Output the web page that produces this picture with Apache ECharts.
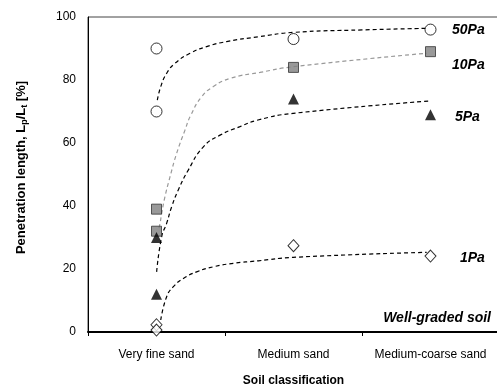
<!DOCTYPE html>
<html>
<head>
<meta charset="utf-8">
<script src="https://cdn.jsdelivr.net/npm/echarts@6/dist/echarts.min.js"></script>
<style>
  html, body { margin: 0; padding: 0; background: #fff; }
  #chart { width: 497px; height: 385px; }
</style>
</head>
<body>
<div id="chart"></div>
<script>
// soil classes on the x axis
const categories = ['Very fine sand', 'Medium sand', 'Medium-coarse sand']
const yTicks = [0, 20, 40, 60, 80, 100]

// measured points (category index, value)
const pa50Cat = [0, 0, 1, 2]
const pa50Val = [90, 70, 93, 96]
const pa10Cat = [0, 0, 1, 2]
const pa10Val = [39, 32, 84, 89]
const pa5Cat = [0, 0, 1, 2]
const pa5Val = [30, 12, 74, 69]
const pa1Cat = [0, 0, 1, 2]
const pa1Val = [2.3, 0.6, 27.4, 24.1]

// dashed trend lines (x in category widths, 0.5 = first class)
const fit50X = [0.506, 0.531, 0.574, 0.635, 0.745, 0.866, 1.012, 1.241, 1.496, 2.0, 2.474]
const fit50Y = [73.6, 77.9, 82.1, 85.3, 88.5, 90.6, 92.2, 93.7, 95.1, 95.9, 96.4]
const fit10X = [0.518, 0.526, 0.538, 0.562, 0.599, 0.647, 0.708, 0.75, 0.83, 0.915, 1.036, 1.255, 1.496, 2.472]
const fit10Y = [33.0, 34.5, 37.7, 43.0, 49.3, 56.7, 64.1, 68.8, 74.7, 77.9, 80.5, 82.4, 84.2, 88.5]
const fit5X = [0.501, 0.538, 0.574, 0.611, 0.659, 0.732, 0.842, 0.964, 1.109, 1.241, 1.496, 2.484]
const fit5Y = [19.1, 30.3, 34.5, 39.8, 45.1, 51.4, 58.8, 62.5, 65.2, 67.3, 69.4, 73.3]
const fit1X = [0.531, 0.574, 0.623, 0.696, 0.793, 0.915, 1.061, 1.243, 1.496, 2.472]
const fit1Y = [3.8, 11.2, 14.4, 17.0, 19.1, 20.7, 21.8, 22.6, 23.7, 25.3]

const seriesLabels = ['50Pa', '10Pa', '5Pa', '1Pa']

function pairs(xs, ys) {
  return xs.map((x, i) => [x, ys[i]])
}

function scatter(name, cats, vals, symbol, size, style) {
  return {
    name,
    type: 'scatter',
    xAxisIndex: 0,
    symbol,
    symbolSize: size,
    clip: false,
    z: 5,
    itemStyle: style,
    data: cats.map((c, i) => [categories[c], vals[i]]),
  }
}

function fitLine(xs, ys, color) {
  return {
    type: 'line',
    xAxisIndex: 1,
    smooth: 0.5,
    showSymbol: false,
    silent: true,
    z: 2,
    lineStyle: { color, width: 1.2, type: [4, 3] },
    data: pairs(xs, ys),
  }
}

const labelFont = 'bold italic 14px "Liberation Sans", Arial, sans-serif'

const chart = echarts.init(document.getElementById('chart'))

chart.setOption({
  animation: false,
  textStyle: { fontFamily: '"Liberation Sans", Arial, sans-serif' },
  grid: {
    left: 88,
    top: 17,
    width: 411,
    height: 315,
    outerBoundsMode: 'none',
    containLabel: false,
    show: true,
    borderColor: '#444',
    borderWidth: 1,
  },
  xAxis: [
    {
      type: 'category',
      data: categories,
      boundaryGap: true,
      name: 'Soil classification',
      nameLocation: 'middle',
      nameGap: 43,
      nameTextStyle: { fontSize: 12, fontWeight: 'bold', color: '#000' },
      axisLine: { lineStyle: { color: '#000', width: 2 } },
      axisTick: { show: true, interval: 0, length: 4, lineStyle: { color: '#000', width: 1 } },
      axisLabel: { fontSize: 12, color: '#000', margin: 17, interval: 0 },
    },
    {
      type: 'value',
      min: 0,
      max: 3,
      show: false,
    },
  ],
  yAxis: {
    type: 'value',
    min: yTicks[0],
    max: yTicks[yTicks.length - 1],
    interval: 20,
    name: '{b|Penetration length, L}{s|p}{b|/L}{s|t}{b| [%]}',
    nameLocation: 'middle',
    nameGap: 59,
    nameTextStyle: {
      padding: [0, 0, 0, 14],
      rich: {
        b: { fontSize: 13, fontWeight: 'bold', color: '#000', lineHeight: 16 },
        s: { fontSize: 9, fontWeight: 'bold', color: '#000', verticalAlign: 'bottom', lineHeight: 12 },
      },
    },
    axisLine: { show: true, lineStyle: { color: '#000', width: 1 } },
    axisTick: { show: false },
    splitLine: { show: false },
    axisLabel: { fontSize: 12, color: '#000', margin: 12 },
  },
  series: [
    fitLine(fit50X, fit50Y, '#000'),
    fitLine(fit10X, fit10Y, '#999'),
    fitLine(fit5X, fit5Y, '#000'),
    fitLine(fit1X, fit1Y, '#000'),
    scatter(seriesLabels[0], pa50Cat, pa50Val, 'circle', 11, { color: '#fff', borderColor: '#000', borderWidth: 1 }),
    scatter(seriesLabels[1], pa10Cat, pa10Val, 'rect', 10, { color: '#808080', borderColor: '#333', borderWidth: 1 }),
    scatter(seriesLabels[2], pa5Cat, pa5Val, 'triangle', 11, { color: '#000' }),
    scatter(seriesLabels[3], pa1Cat, pa1Val, 'diamond', [11, 12], { color: '#fff', borderColor: '#000', borderWidth: 1 }),
  ],
  graphic: [
    { type: 'text', left: 452, top: 23, style: { text: seriesLabels[0], font: labelFont, fill: '#000' } },
    { type: 'text', left: 452, top: 58, style: { text: seriesLabels[1], font: labelFont, fill: '#000' } },
    { type: 'text', left: 455, top: 110, style: { text: seriesLabels[2], font: labelFont, fill: '#000' } },
    { type: 'text', left: 460, top: 251, style: { text: seriesLabels[3], font: labelFont, fill: '#000' } },
    { type: 'text', right: 6, top: 311, style: { text: 'Well-graded soil', font: labelFont, fill: '#000' } },
  ],
})
</script>
</body>
</html>
